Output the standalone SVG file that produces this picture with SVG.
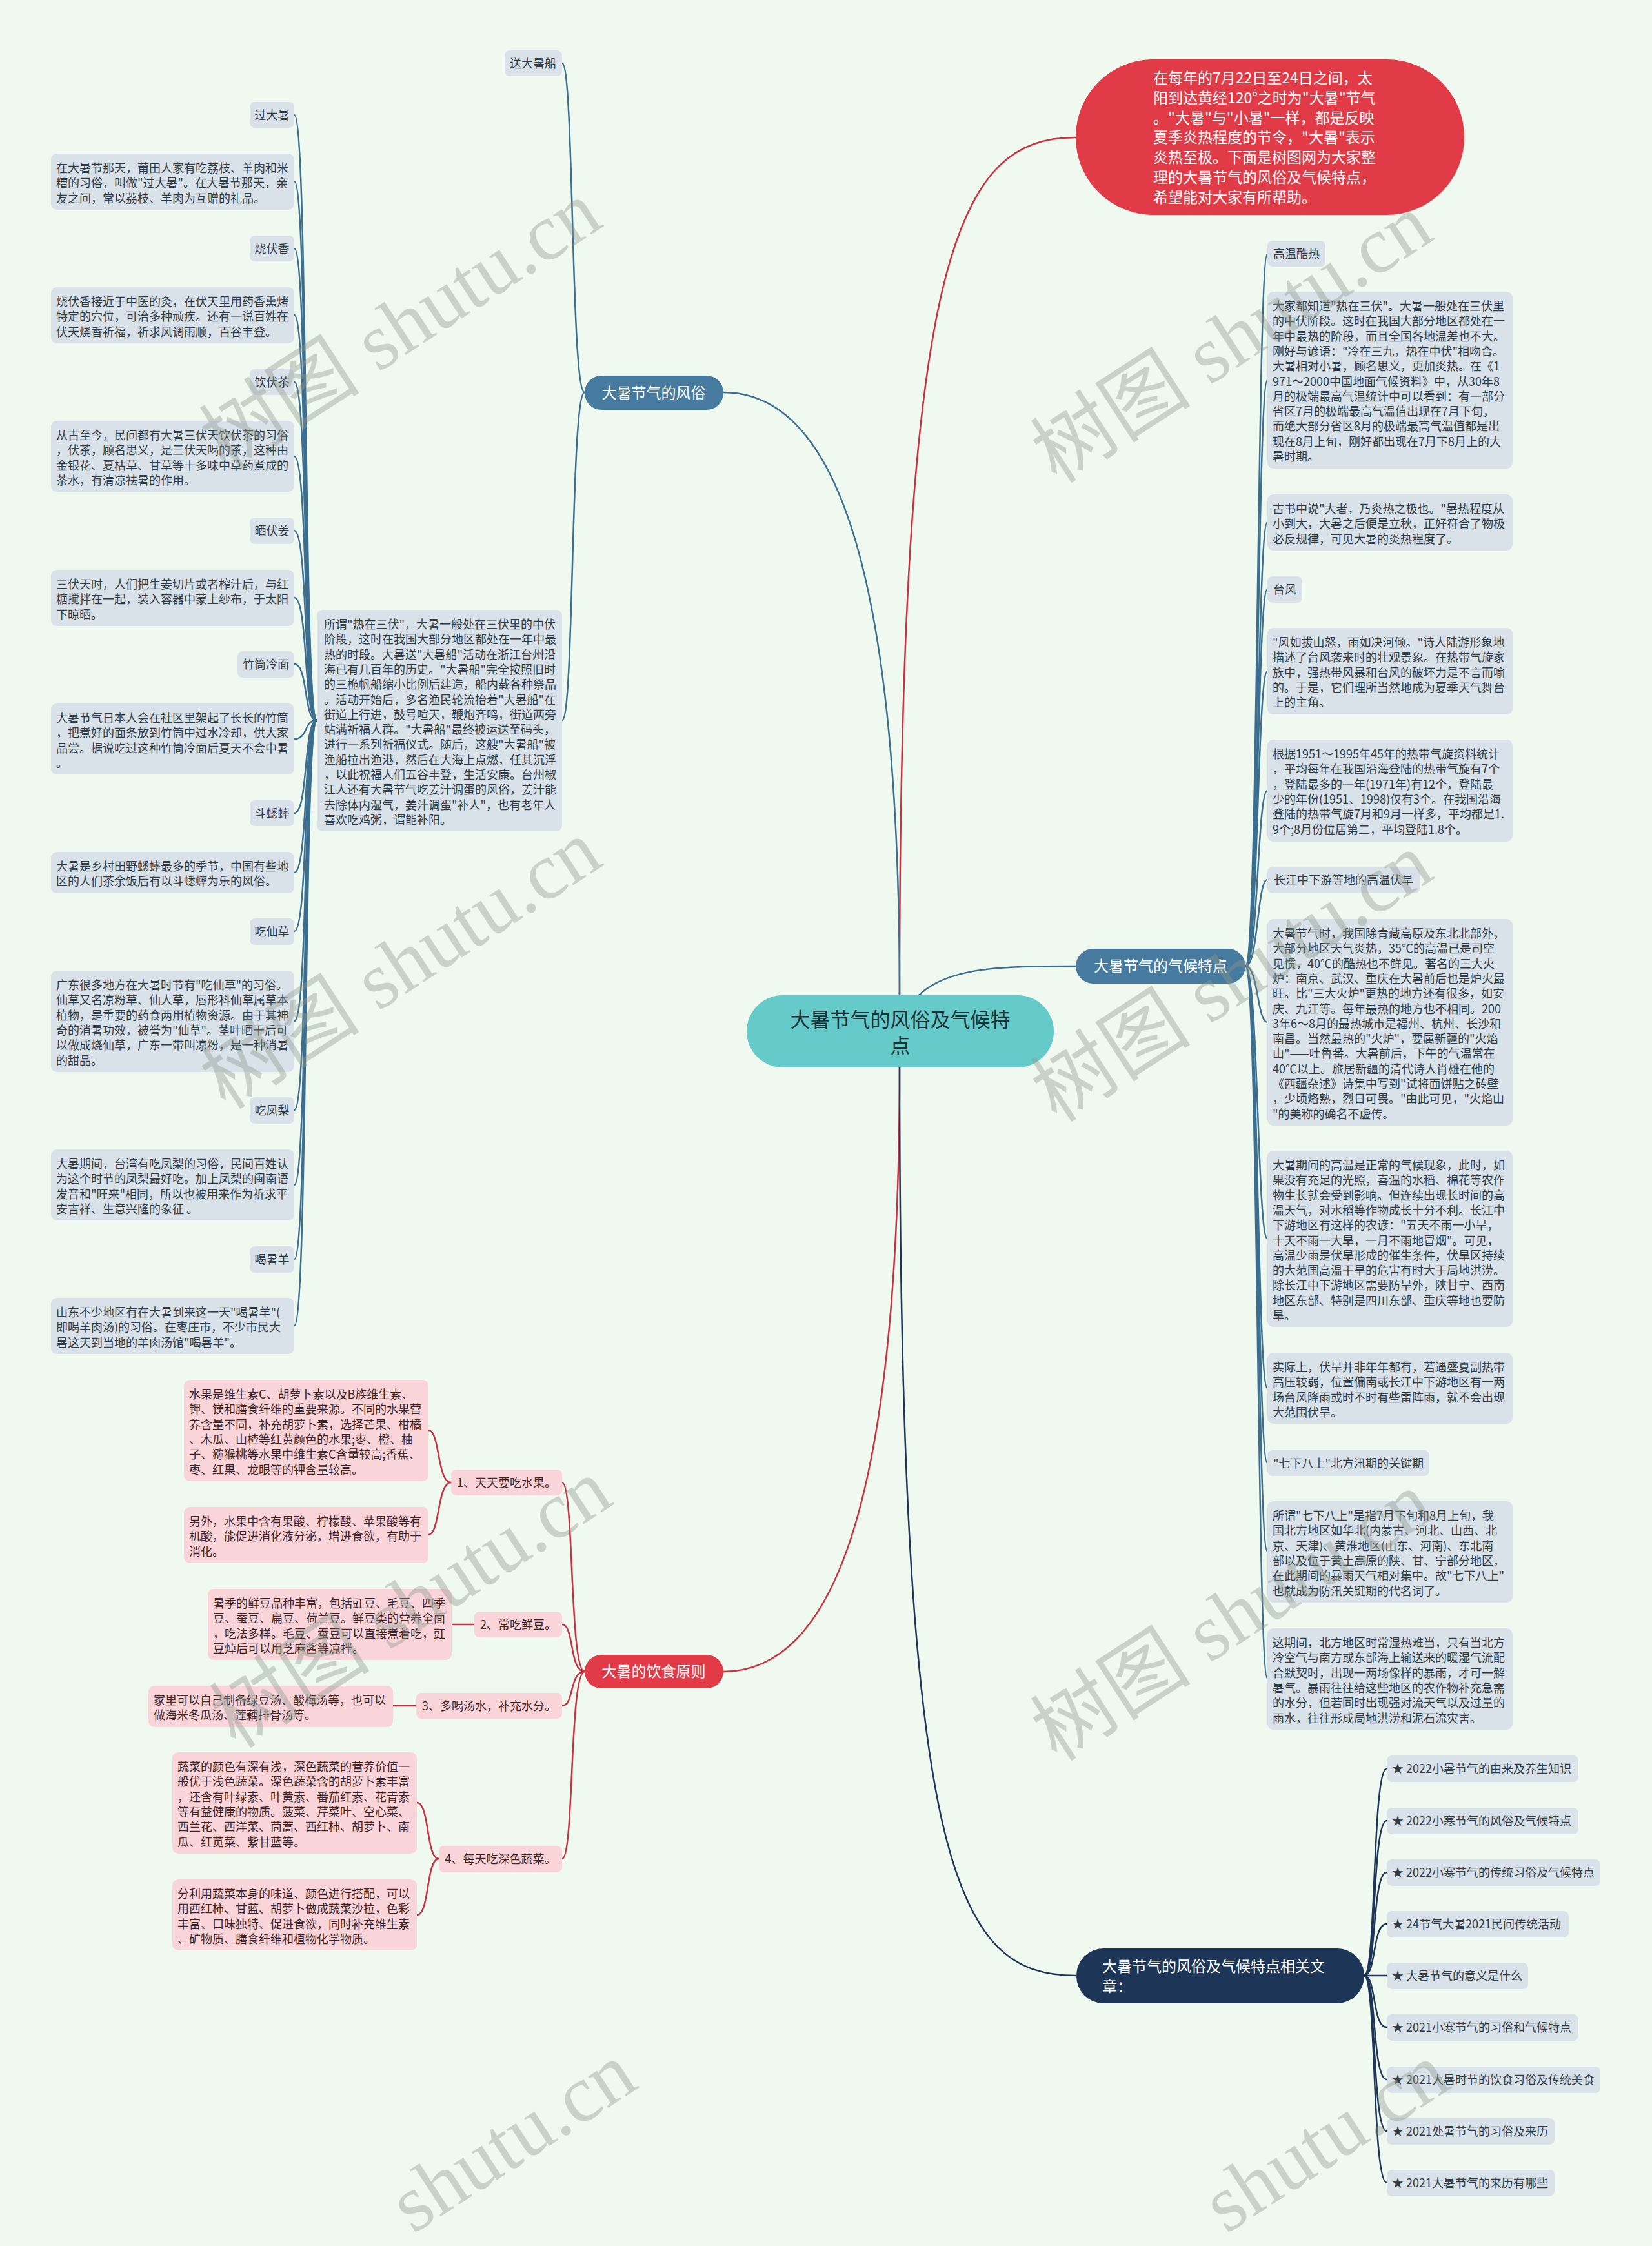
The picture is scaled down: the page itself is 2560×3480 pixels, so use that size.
<svg xmlns="http://www.w3.org/2000/svg" width="2560" height="3480" viewBox="0 0 2560 3480">
<style>
.t{font-family:"Noto Sans CJK SC","Noto Sans",sans-serif;font-size:18px;fill:#2e3b46}
.lb{fill:#dae2e9}
.fb{fill:#f9d5d9}
.ft{font-family:"Noto Sans CJK SC","Noto Sans",sans-serif;font-size:18px;fill:#3d2326}
.w{font-family:"Noto Sans CJK SC","Noto Sans",sans-serif;fill:#ffffff}
.c{text-anchor:middle}
.cb{fill:none;stroke:#3c6e8f;stroke-width:2.5}
.cr{fill:none;stroke:#c8323f;stroke-width:2.5}
.cn{fill:none;stroke:#1d3557;stroke-width:2.5}
.wm{font-family:"Liberation Serif","Noto Sans CJK SC",serif;font-size:125px;fill:#8f998f;opacity:0.4;text-anchor:middle}
</style>
<rect width="2560" height="3480" fill="#f0f9ef"/>
<g id="connectors">
<path class="cr" stroke-width="3" d="M1394 1542 C1394 400 1480 213 1667 213"/>
<path class="cb" stroke-width="3" d="M1394 1542 C1394 900 1300 608 1121 608"/>
<path class="cb" stroke-width="3" d="M1424 1542 C1470 1497 1560 1497 1667 1497"/>
<path class="cr" stroke-width="3" d="M1394 1654 C1394 2300 1300 2590 1121 2590"/>
<path class="cn" stroke-width="3" d="M1394 1654 C1394 2900 1480 3061 1668 3061"/>
<path class="cb" d="M906 608 C884 608 890 98 871 98"/>
<path class="cb" d="M906 608 C884 608 890 1116 871 1116"/>
<path class="cb" d="M491 1116 C470 1116 478 178 456 178"/>
<path class="cb" d="M491 1116 C470 1116 478 281 456 281"/>
<path class="cb" d="M491 1116 C470 1116 478 385 456 385"/>
<path class="cb" d="M491 1116 C470 1116 478 488 456 488"/>
<path class="cb" d="M491 1116 C470 1116 478 592 456 592"/>
<path class="cb" d="M491 1116 C470 1116 478 707 456 707"/>
<path class="cb" d="M491 1116 C470 1116 478 822 456 822"/>
<path class="cb" d="M491 1116 C470 1116 478 926 456 926"/>
<path class="cb" d="M491 1116 C470 1116 478 1029 456 1029"/>
<path class="cb" d="M491 1116 C470 1116 478 1145 456 1145"/>
<path class="cb" d="M491 1116 C470 1116 478 1260 456 1260"/>
<path class="cb" d="M491 1116 C470 1116 478 1352 456 1352"/>
<path class="cb" d="M491 1116 C470 1116 478 1443 456 1443"/>
<path class="cb" d="M491 1116 C470 1116 478 1582 456 1582"/>
<path class="cb" d="M491 1116 C470 1116 478 1720 456 1720"/>
<path class="cb" d="M491 1116 C470 1116 478 1836 456 1836"/>
<path class="cb" d="M491 1116 C470 1116 478 1951 456 1951"/>
<path class="cb" d="M491 1116 C470 1116 478 2054 456 2054"/>
<path class="cb" d="M1930 1497 C1950 1497 1948 393 1964 393"/>
<path class="cb" d="M1930 1497 C1950 1497 1948 589 1964 589"/>
<path class="cb" d="M1930 1497 C1950 1497 1948 809 1964 809"/>
<path class="cb" d="M1930 1497 C1950 1497 1948 913 1964 913"/>
<path class="cb" d="M1930 1497 C1950 1497 1948 1040 1964 1040"/>
<path class="cb" d="M1930 1497 C1950 1497 1948 1225 1964 1225"/>
<path class="cb" d="M1930 1497 C1950 1497 1948 1363 1964 1363"/>
<path class="cb" d="M1930 1497 C1950 1497 1948 1584 1964 1584"/>
<path class="cb" d="M1930 1497 C1950 1497 1948 1919 1964 1919"/>
<path class="cb" d="M1930 1497 C1950 1497 1948 2151 1964 2151"/>
<path class="cb" d="M1930 1497 C1950 1497 1948 2267 1964 2267"/>
<path class="cb" d="M1930 1497 C1950 1497 1948 2404 1964 2404"/>
<path class="cb" d="M1930 1497 C1950 1497 1948 2601 1964 2601"/>
<path class="cr" d="M906 2590 C882 2590 890 2297 871 2297"/>
<path class="cr" d="M906 2590 C882 2590 890 2517 871 2517"/>
<path class="cr" d="M906 2590 C882 2590 890 2643 871 2643"/>
<path class="cr" d="M906 2590 C882 2590 890 2880 871 2880"/>
<path class="cr" d="M699 2297 C677 2297 682 2216 664 2216"/>
<path class="cr" d="M699 2297 C677 2297 682 2378 664 2378"/>
<path class="cr" d="M735 2517 L700 2517"/>
<path class="cr" d="M645 2643 L609 2643"/>
<path class="cr" d="M680 2880 C660 2880 666 2793 646 2793"/>
<path class="cr" d="M680 2880 C660 2880 666 2967 646 2967"/>
<path class="cn" d="M2114 3061 C2133 3061 2126 2740 2149 2740"/>
<path class="cn" d="M2114 3061 C2133 3061 2126 2821 2149 2821"/>
<path class="cn" d="M2114 3061 C2133 3061 2126 2901 2149 2901"/>
<path class="cn" d="M2114 3061 C2133 3061 2126 2981 2149 2981"/>
<path class="cn" d="M2114 3061 L2149 3061"/>
<path class="cn" d="M2114 3061 C2133 3061 2126 3141 2149 3141"/>
<path class="cn" d="M2114 3061 C2133 3061 2126 3222 2149 3222"/>
<path class="cn" d="M2114 3061 C2133 3061 2126 3302 2149 3302"/>
<path class="cn" d="M2114 3061 C2133 3061 2126 3382 2149 3382"/>
</g>

<g id="center">
<rect x="1157" y="1542" width="476" height="112" rx="56" fill="#64caca"/>
<text x="1395" y="1591" font-family="Noto Sans CJK SC, sans-serif" font-size="31" fill="#1d3235" text-anchor="middle"><tspan x="1395">大暑节气的风俗及气候特</tspan><tspan x="1395" dy="40">点</tspan></text>
</g>

<g id="intro">
<rect x="1667" y="92" width="602" height="241" rx="120" fill="#e13b48"/>
<text class="w" font-size="23" x="1787" y="129"><tspan x="1787">在每年的7月22日至24日之间，太</tspan><tspan x="1787" dy="30.8">阳到达黄经120°之时为"大暑"节气</tspan><tspan x="1787" dy="30.8">。"大暑"与"小暑"一样，都是反映</tspan><tspan x="1787" dy="30.8">夏季炎热程度的节令，"大暑"表示</tspan><tspan x="1787" dy="30.8">炎热至极。下面是树图网为大家整</tspan><tspan x="1787" dy="30.8">理的大暑节气的风俗及气候特点，</tspan><tspan x="1787" dy="30.8">希望能对大家有所帮助。</tspan></text>
</g>

<g id="customs">
<rect x="906" y="582" width="215" height="53" rx="26" fill="#467a9e"/>
<text class="w c" font-size="23" x="1013" y="617">大暑节气的风俗</text>
</g>
<g id="songdashuchuan"><rect class="lb" x="782" y="78" width="89" height="40" rx="8"/><text class="t c" x="826" y="105">送大暑船</text></g>
<g id="suowei"><rect class="lb" x="491" y="945" width="380" height="343" rx="9"/><text class="t" x="502" y="974"><tspan x="502">所谓"热在三伏"，大暑一般处在三伏里的中伏</tspan><tspan x="502" dy="23.3">阶段，这时在我国大部分地区都处在一年中最</tspan><tspan x="502" dy="23.3">热的时段。大暑送"大暑船"活动在浙江台州沿</tspan><tspan x="502" dy="23.3">海已有几百年的历史。"大暑船"完全按照旧时</tspan><tspan x="502" dy="23.3">的三桅帆船缩小比例后建造，船内载各种祭品</tspan><tspan x="502" dy="23.3">。活动开始后，多名渔民轮流抬着"大暑船"在</tspan><tspan x="502" dy="23.3">街道上行进，鼓号喧天，鞭炮齐鸣，街道两旁</tspan><tspan x="502" dy="23.3">站满祈福人群。"大暑船"最终被运送至码头，</tspan><tspan x="502" dy="23.3">进行一系列祈福仪式。随后，这艘"大暑船"被</tspan><tspan x="502" dy="23.3">渔船拉出渔港，然后在大海上点燃，任其沉浮</tspan><tspan x="502" dy="23.3">，以此祝福人们五谷丰登，生活安康。台州椒</tspan><tspan x="502" dy="23.3">江人还有大暑节气吃姜汁调蛋的风俗，姜汁能</tspan><tspan x="502" dy="23.3">去除体内湿气，姜汁调蛋"补人"，也有老年人</tspan><tspan x="502" dy="23.3">喜欢吃鸡粥，谓能补阳。</tspan></text></g>

<g id="guodashu"><rect class="lb" x="387" y="158" width="69" height="40" rx="8"/><text class="t c" x="421.5" y="185">过大暑</text></g>
<g id="guodashu-d"><rect class="lb" x="79" y="238" width="377" height="87" rx="9"/><text class="t" x="87" y="267"><tspan x="87">在大暑节那天，莆田人家有吃荔枝、羊肉和米</tspan><tspan x="87" dy="23.3">糟的习俗，叫做"过大暑"。在大暑节那天，亲</tspan><tspan x="87" dy="23.3">友之间，常以荔枝、羊肉为互赠的礼品。</tspan></text></g>
<g id="shaofuxiang"><rect class="lb" x="387" y="365" width="69" height="40" rx="8"/><text class="t c" x="421.5" y="392">烧伏香</text></g>
<g id="shaofuxiang-d"><rect class="lb" x="79" y="445" width="377" height="87" rx="9"/><text class="t" x="87" y="474"><tspan x="87">烧伏香接近于中医的灸，在伏天里用药香熏烤</tspan><tspan x="87" dy="23.3">特定的穴位，可治多种顽疾。还有一说百姓在</tspan><tspan x="87" dy="23.3">伏天烧香祈福，祈求风调雨顺，百谷丰登。</tspan></text></g>
<g id="yinfucha"><rect class="lb" x="387" y="572" width="69" height="40" rx="8"/><text class="t c" x="421.5" y="599">饮伏茶</text></g>
<g id="yinfucha-d"><rect class="lb" x="79" y="652" width="377" height="110" rx="9"/><text class="t" x="87" y="681"><tspan x="87">从古至今，民间都有大暑三伏天饮伏茶的习俗</tspan><tspan x="87" dy="23.3">，伏茶，顾名思义，是三伏天喝的茶，这种由</tspan><tspan x="87" dy="23.3">金银花、夏枯草、甘草等十多味中草药煮成的</tspan><tspan x="87" dy="23.3">茶水，有清凉祛暑的作用。</tspan></text></g>
<g id="shaifujiang"><rect class="lb" x="387" y="802" width="69" height="41" rx="8"/><text class="t c" x="421.5" y="829">晒伏姜</text></g>
<g id="shaifujiang-d"><rect class="lb" x="79" y="883" width="377" height="87" rx="9"/><text class="t" x="87" y="912"><tspan x="87">三伏天时，人们把生姜切片或者榨汁后，与红</tspan><tspan x="87" dy="23.3">糖搅拌在一起，装入容器中蒙上纱布，于太阳</tspan><tspan x="87" dy="23.3">下晾晒。</tspan></text></g>
<g id="zhutong"><rect class="lb" x="368" y="1009" width="88" height="41" rx="8"/><text class="t c" x="412" y="1036">竹筒冷面</text></g>
<g id="zhutong-d"><rect class="lb" x="79" y="1090" width="377" height="110" rx="9"/><text class="t" x="87" y="1119"><tspan x="87">大暑节气日本人会在社区里架起了长长的竹筒</tspan><tspan x="87" dy="23.3">，把煮好的面条放到竹筒中过水冷却，供大家</tspan><tspan x="87" dy="23.3">品尝。据说吃过这种竹筒冷面后夏天不会中暑</tspan><tspan x="87" dy="23.3">。</tspan></text></g>
<g id="douxishuai"><rect class="lb" x="387" y="1240" width="69" height="40" rx="8"/><text class="t c" x="421.5" y="1267">斗蟋蟀</text></g>
<g id="douxishuai-d"><rect class="lb" x="79" y="1320" width="377" height="64" rx="9"/><text class="t" x="87" y="1349"><tspan x="87">大暑是乡村田野蟋蟀最多的季节，中国有些地</tspan><tspan x="87" dy="23.3">区的人们茶余饭后有以斗蟋蟀为乐的风俗。</tspan></text></g>
<g id="chixiancao"><rect class="lb" x="387" y="1423" width="69" height="41" rx="8"/><text class="t c" x="421.5" y="1450">吃仙草</text></g>
<g id="chixiancao-d"><rect class="lb" x="79" y="1504" width="377" height="157" rx="9"/><text class="t" x="87" y="1533"><tspan x="87">广东很多地方在大暑时节有"吃仙草"的习俗。</tspan><tspan x="87" dy="23.3">仙草又名凉粉草、仙人草，唇形科仙草属草本</tspan><tspan x="87" dy="23.3">植物，是重要的药食两用植物资源。由于其神</tspan><tspan x="87" dy="23.3">奇的消暑功效，被誉为"仙草"。茎叶晒干后可</tspan><tspan x="87" dy="23.3">以做成烧仙草，广东一带叫凉粉，是一种消暑</tspan><tspan x="87" dy="23.3">的甜品。</tspan></text></g>
<g id="chifengli"><rect class="lb" x="387" y="1700" width="69" height="41" rx="8"/><text class="t c" x="421.5" y="1727">吃凤梨</text></g>
<g id="chifengli-d"><rect class="lb" x="79" y="1781" width="377" height="110" rx="9"/><text class="t" x="87" y="1810"><tspan x="87">大暑期间，台湾有吃凤梨的习俗，民间百姓认</tspan><tspan x="87" dy="23.3">为这个时节的凤梨最好吃。加上凤梨的闽南语</tspan><tspan x="87" dy="23.3">发音和"旺来"相同，所以也被用来作为祈求平</tspan><tspan x="87" dy="23.3">安吉祥、生意兴隆的象征 。</tspan></text></g>
<g id="heshuyang"><rect class="lb" x="387" y="1931" width="69" height="41" rx="8"/><text class="t c" x="421.5" y="1958">喝暑羊</text></g>
<g id="heshuyang-d"><rect class="lb" x="79" y="2011" width="377" height="87" rx="9"/><text class="t" x="87" y="2040"><tspan x="87">山东不少地区有在大暑到来这一天"喝暑羊"(</tspan><tspan x="87" dy="23.3">即喝羊肉汤)的习俗。在枣庄市，不少市民大</tspan><tspan x="87" dy="23.3">暑这天到当地的羊肉汤馆"喝暑羊"。</tspan></text></g>

<g id="diet">
<rect x="906" y="2564" width="215" height="52" rx="26" fill="#e13b48"/>
<text class="w c" font-size="23" x="1013" y="2598">大暑的饮食原则</text>
</g>
<g id="fruit"><rect class="fb" x="699" y="2277" width="172" height="40" rx="8"/><text class="ft c" x="785" y="2304">1、天天要吃水果。</text></g>
<g id="fruit-d1"><rect class="fb" x="285" y="2138" width="379" height="157" rx="9"/><text class="ft" x="293" y="2167"><tspan x="293">水果是维生素C、胡萝卜素以及B族维生素、</tspan><tspan x="293" dy="23.3">钾、镁和膳食纤维的重要来源。不同的水果营</tspan><tspan x="293" dy="23.3">养含量不同，补充胡萝卜素，选择芒果、柑橘</tspan><tspan x="293" dy="23.3">、木瓜、山楂等红黄颜色的水果;枣、橙、柚</tspan><tspan x="293" dy="23.3">子、猕猴桃等水果中维生素C含量较高;香蕉、</tspan><tspan x="293" dy="23.3">枣、红果、龙眼等的钾含量较高。</tspan></text></g>
<g id="fruit-d2"><rect class="fb" x="285" y="2335" width="379" height="87" rx="9"/><text class="ft" x="293" y="2364"><tspan x="293">另外，水果中含有果酸、柠檬酸、苹果酸等有</tspan><tspan x="293" dy="23.3">机酸，能促进消化液分泌，增进食欲，有助于</tspan><tspan x="293" dy="23.3">消化。</tspan></text></g>
<g id="bean"><rect class="fb" x="735" y="2497" width="136" height="40" rx="8"/><text class="ft c" x="803" y="2524">2、常吃鲜豆。</text></g>
<g id="bean-d"><rect class="fb" x="322" y="2462" width="378" height="110" rx="9"/><text class="ft" x="330" y="2491"><tspan x="330">暑季的鲜豆品种丰富，包括豇豆、毛豆、四季</tspan><tspan x="330" dy="23.3">豆、蚕豆、扁豆、荷兰豆。鲜豆类的营养全面</tspan><tspan x="330" dy="23.3">，吃法多样。毛豆、蚕豆可以直接煮着吃，豇</tspan><tspan x="330" dy="23.3">豆焯后可以用芝麻酱等凉拌。</tspan></text></g>
<g id="soup"><rect class="fb" x="645" y="2623" width="226" height="40" rx="8"/><text class="ft c" x="758" y="2650">3、多喝汤水，补充水分。</text></g>
<g id="soup-d"><rect class="fb" x="230" y="2612" width="379" height="64" rx="9"/><text class="ft" x="238" y="2641"><tspan x="238">家里可以自己制备绿豆汤、酸梅汤等，也可以</tspan><tspan x="238" dy="23.3">做海米冬瓜汤、莲藕排骨汤等。</tspan></text></g>
<g id="veg"><rect class="fb" x="680" y="2860" width="191" height="41" rx="8"/><text class="ft c" x="775.5" y="2887">4、每天吃深色蔬菜。</text></g>
<g id="veg-d1"><rect class="fb" x="267" y="2715" width="379" height="157" rx="9"/><text class="ft" x="275" y="2744"><tspan x="275">蔬菜的颜色有深有浅，深色蔬菜的营养价值一</tspan><tspan x="275" dy="23.3">般优于浅色蔬菜。深色蔬菜含的胡萝卜素丰富</tspan><tspan x="275" dy="23.3">，还含有叶绿素、叶黄素、番茄红素、花青素</tspan><tspan x="275" dy="23.3">等有益健康的物质。菠菜、芹菜叶、空心菜、</tspan><tspan x="275" dy="23.3">西兰花、西洋菜、茼蒿、西红柿、胡萝卜、南</tspan><tspan x="275" dy="23.3">瓜、红苋菜、紫甘蓝等。</tspan></text></g>
<g id="veg-d2"><rect class="fb" x="267" y="2912" width="379" height="110" rx="9"/><text class="ft" x="275" y="2941"><tspan x="275">分利用蔬菜本身的味道、颜色进行搭配，可以</tspan><tspan x="275" dy="23.3">用西红柿、甘蓝、胡萝卜做成蔬菜沙拉，色彩</tspan><tspan x="275" dy="23.3">丰富、口味独特、促进食欲，同时补充维生素</tspan><tspan x="275" dy="23.3">、矿物质、膳食纤维和植物化学物质。</tspan></text></g>

<g id="climate">
<rect x="1667" y="1470" width="263" height="54" rx="27" fill="#467a9e"/>
<text class="w c" font-size="23" x="1798.5" y="1505">大暑节气的气候特点</text>
</g>
<g id="gaowen"><rect class="lb" x="1964" y="373" width="90" height="40" rx="8"/><text class="t c" x="2009" y="400">高温酷热</text></g>
<g id="gaowen-d1"><rect class="lb" x="1964" y="452" width="380" height="274" rx="9"/><text class="t" x="1972" y="481"><tspan x="1972">大家都知道"热在三伏"。大暑一般处在三伏里</tspan><tspan x="1972" dy="23.3">的中伏阶段。这时在我国大部分地区都处在一</tspan><tspan x="1972" dy="23.3">年中最热的阶段，而且全国各地温差也不大。</tspan><tspan x="1972" dy="23.3">刚好与谚语："冷在三九，热在中伏"相吻合。</tspan><tspan x="1972" dy="23.3">大暑相对小暑，顾名思义，更加炎热。在《1</tspan><tspan x="1972" dy="23.3">971～2000中国地面气候资料》中，从30年8</tspan><tspan x="1972" dy="23.3">月的极端最高气温统计中可以看到：有一部分</tspan><tspan x="1972" dy="23.3">省区7月的极端最高气温值出现在7月下旬，</tspan><tspan x="1972" dy="23.3">而绝大部分省区8月的极端最高气温值都是出</tspan><tspan x="1972" dy="23.3">现在8月上旬，刚好都出现在7月下8月上的大</tspan><tspan x="1972" dy="23.3">暑时期。</tspan></text></g>
<g id="gaowen-d2"><rect class="lb" x="1964" y="766" width="380" height="87" rx="9"/><text class="t" x="1972" y="795"><tspan x="1972">古书中说"大者，乃炎热之极也。"暑热程度从</tspan><tspan x="1972" dy="23.3">小到大，大暑之后便是立秋，正好符合了物极</tspan><tspan x="1972" dy="23.3">必反规律，可见大暑的炎热程度了。</tspan></text></g>
<g id="taifeng"><rect class="lb" x="1964" y="893" width="54" height="41" rx="8"/><text class="t c" x="1991" y="920">台风</text></g>
<g id="taifeng-d1"><rect class="lb" x="1964" y="973" width="380" height="134" rx="9"/><text class="t" x="1972" y="1002"><tspan x="1972">"风如拔山怒，雨如决河倾。"诗人陆游形象地</tspan><tspan x="1972" dy="23.3">描述了台风袭来时的壮观景象。在热带气旋家</tspan><tspan x="1972" dy="23.3">族中，强热带风暴和台风的破坏力是不言而喻</tspan><tspan x="1972" dy="23.3">的。于是，它们理所当然地成为夏季天气舞台</tspan><tspan x="1972" dy="23.3">上的主角。</tspan></text></g>
<g id="taifeng-d2"><rect class="lb" x="1964" y="1146" width="380" height="158" rx="9"/><text class="t" x="1972" y="1175"><tspan x="1972">根据1951～1995年45年的热带气旋资料统计</tspan><tspan x="1972" dy="23.3">，平均每年在我国沿海登陆的热带气旋有7个</tspan><tspan x="1972" dy="23.3">，登陆最多的一年(1971年)有12个，登陆最</tspan><tspan x="1972" dy="23.3">少的年份(1951、1998)仅有3个。在我国沿海</tspan><tspan x="1972" dy="23.3">登陆的热带气旋7月和9月一样多，平均都是1.</tspan><tspan x="1972" dy="23.3">9个;8月份位居第二，平均登陆1.8个。</tspan></text></g>
<g id="fuhan"><rect class="lb" x="1964" y="1343" width="236" height="41" rx="8"/><text class="t c" x="2082" y="1370">长江中下游等地的高温伏旱</text></g>
<g id="fuhan-d1"><rect class="lb" x="1964" y="1424" width="380" height="320" rx="9"/><text class="t" x="1972" y="1453"><tspan x="1972">大暑节气时，我国除青藏高原及东北北部外，</tspan><tspan x="1972" dy="23.3">大部分地区天气炎热，35℃的高温已是司空</tspan><tspan x="1972" dy="23.3">见惯，40℃的酷热也不鲜见。著名的三大火</tspan><tspan x="1972" dy="23.3">炉：南京、武汉、重庆在大暑前后也是炉火最</tspan><tspan x="1972" dy="23.3">旺。比"三大火炉"更热的地方还有很多，如安</tspan><tspan x="1972" dy="23.3">庆、九江等。每年最热的地方也不相同。200</tspan><tspan x="1972" dy="23.3">3年6～8月的最热城市是福州、杭州、长沙和</tspan><tspan x="1972" dy="23.3">南昌。当然最热的"火炉"，要属新疆的"火焰</tspan><tspan x="1972" dy="23.3">山"——吐鲁番。大暑前后，下午的气温常在</tspan><tspan x="1972" dy="23.3">40℃以上。旅居新疆的清代诗人肖雄在他的</tspan><tspan x="1972" dy="23.3">《西疆杂述》诗集中写到"试将面饼贴之砖壁</tspan><tspan x="1972" dy="23.3">，少顷烙熟，烈日可畏。"由此可见，"火焰山</tspan><tspan x="1972" dy="23.3">"的美称的确名不虚传。</tspan></text></g>
<g id="fuhan-d2"><rect class="lb" x="1964" y="1783" width="380" height="273" rx="9"/><text class="t" x="1972" y="1812"><tspan x="1972">大暑期间的高温是正常的气候现象，此时，如</tspan><tspan x="1972" dy="23.3">果没有充足的光照，喜温的水稻、棉花等农作</tspan><tspan x="1972" dy="23.3">物生长就会受到影响。但连续出现长时间的高</tspan><tspan x="1972" dy="23.3">温天气，对水稻等作物成长十分不利。长江中</tspan><tspan x="1972" dy="23.3">下游地区有这样的农谚："五天不雨一小旱，</tspan><tspan x="1972" dy="23.3">十天不雨一大旱，一月不雨地冒烟"。可见，</tspan><tspan x="1972" dy="23.3">高温少雨是伏旱形成的催生条件，伏旱区持续</tspan><tspan x="1972" dy="23.3">的大范围高温干旱的危害有时大于局地洪涝。</tspan><tspan x="1972" dy="23.3">除长江中下游地区需要防旱外，陕甘宁、西南</tspan><tspan x="1972" dy="23.3">地区东部、特别是四川东部、重庆等地也要防</tspan><tspan x="1972" dy="23.3">旱。</tspan></text></g>
<g id="fuhan-d3"><rect class="lb" x="1964" y="2096" width="380" height="110" rx="9"/><text class="t" x="1972" y="2125"><tspan x="1972">实际上，伏旱并非年年都有，若遇盛夏副热带</tspan><tspan x="1972" dy="23.3">高压较弱，位置偏南或长江中下游地区有一两</tspan><tspan x="1972" dy="23.3">场台风降雨或时不时有些雷阵雨，就不会出现</tspan><tspan x="1972" dy="23.3">大范围伏旱。</tspan></text></g>
<g id="qixiabashang"><rect class="lb" x="1964" y="2247" width="251" height="40" rx="8"/><text class="t c" x="2089.5" y="2274">"七下八上"北方汛期的关键期</text></g>
<g id="qixiabashang-d1"><rect class="lb" x="1964" y="2326" width="380" height="157" rx="9"/><text class="t" x="1972" y="2355"><tspan x="1972">所谓"七下八上"是指7月下旬和8月上旬，我</tspan><tspan x="1972" dy="23.3">国北方地区如华北(内蒙古、河北、山西、北</tspan><tspan x="1972" dy="23.3">京、天津)、黄淮地区(山东、河南)、东北南</tspan><tspan x="1972" dy="23.3">部以及位于黄土高原的陕、甘、宁部分地区，</tspan><tspan x="1972" dy="23.3">在此期间的暴雨天气相对集中。故"七下八上"</tspan><tspan x="1972" dy="23.3">也就成为防汛关键期的代名词了。</tspan></text></g>
<g id="qixiabashang-d2"><rect class="lb" x="1964" y="2523" width="380" height="157" rx="9"/><text class="t" x="1972" y="2552"><tspan x="1972">这期间，北方地区时常湿热难当，只有当北方</tspan><tspan x="1972" dy="23.3">冷空气与南方或东部海上输送来的暖湿气流配</tspan><tspan x="1972" dy="23.3">合默契时，出现一两场像样的暴雨，才可一解</tspan><tspan x="1972" dy="23.3">暑气。暴雨往往给这些地区的农作物补充急需</tspan><tspan x="1972" dy="23.3">的水分，但若同时出现强对流天气以及过量的</tspan><tspan x="1972" dy="23.3">雨水，往往形成局地洪涝和泥石流灾害。</tspan></text></g>

<g id="related">
<rect x="1668" y="3019" width="446" height="85" rx="42" fill="#1d3557"/>
<text class="w" font-size="23" x="1708" y="3055"><tspan x="1708">大暑节气的风俗及气候特点相关文</tspan><tspan x="1708" dy="31">章：</tspan></text>
</g>
<g id="art1"><rect class="lb" x="2149" y="2720" width="297" height="41" rx="8"/><text class="t" x="2157" y="2747">★ 2022小暑节气的由来及养生知识</text></g>
<g id="art2"><rect class="lb" x="2149" y="2801" width="297" height="41" rx="8"/><text class="t" x="2157" y="2828">★ 2022小寒节气的风俗及气候特点</text></g>
<g id="art3"><rect class="lb" x="2149" y="2881" width="331" height="41" rx="8"/><text class="t" x="2157" y="2908">★ 2022小寒节气的传统习俗及气候特点</text></g>
<g id="art4"><rect class="lb" x="2149" y="2961" width="282" height="41" rx="8"/><text class="t" x="2157" y="2988">★ 24节气大暑2021民间传统活动</text></g>
<g id="art5"><rect class="lb" x="2149" y="3041" width="219" height="41" rx="8"/><text class="t" x="2157" y="3068">★ 大暑节气的意义是什么</text></g>
<g id="art6"><rect class="lb" x="2149" y="3121" width="297" height="41" rx="8"/><text class="t" x="2157" y="3148">★ 2021小寒节气的习俗和气候特点</text></g>
<g id="art7"><rect class="lb" x="2149" y="3202" width="331" height="41" rx="8"/><text class="t" x="2157" y="3229">★ 2021大暑时节的饮食习俗及传统美食</text></g>
<g id="art8"><rect class="lb" x="2149" y="3282" width="260" height="41" rx="8"/><text class="t" x="2157" y="3309">★ 2021处暑节气的习俗及来历</text></g>
<g id="art9"><rect class="lb" x="2149" y="3362" width="260" height="41" rx="8"/><text class="t" x="2157" y="3389">★ 2021大暑节气的来历有哪些</text></g>

<g id="watermarks">
<text class="wm" transform="translate(644,540) rotate(-33)">树图 shutu.cn</text>
<text class="wm" transform="translate(644,1530) rotate(-33)">树图 shutu.cn</text>
<text class="wm" transform="translate(660,2520) rotate(-33)">树图 shutu.cn</text>
<text class="wm" style="text-anchor:start" transform="translate(640,3462) rotate(-33)">shutu.cn</text>
<text class="wm" transform="translate(1932,560) rotate(-33)">树图 shutu.cn</text>
<text class="wm" transform="translate(1932,1550) rotate(-33)">树图 shutu.cn</text>
<text class="wm" transform="translate(1932,2540) rotate(-33)">树图 shutu.cn</text>
<text class="wm" style="text-anchor:start" transform="translate(1900,3462) rotate(-33)">shutu.cn</text>
</g>
</svg>
